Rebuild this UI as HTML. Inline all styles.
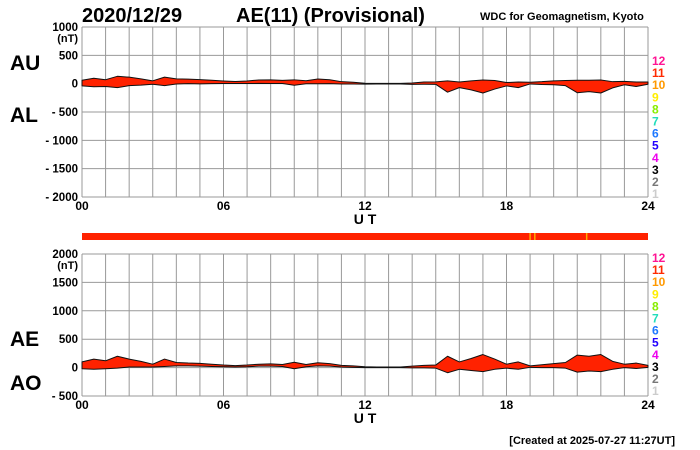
<!DOCTYPE html>
<html><head><meta charset="utf-8"><style>
body{margin:0;background:#fff}
svg{display:block;font-family:"Liberation Sans",sans-serif;font-weight:bold}
</style></head><body>
<svg id="c" width="700" height="450" viewBox="0 0 700 450">
<text x="82" y="22" font-size="20">2020/12/29</text>
<text x="236" y="22" font-size="20">AE(11) (Provisional)</text>
<text x="480" y="20" font-size="11">WDC for Geomagnetism, Kyoto</text>
<text x="10" y="70" font-size="21">AU</text>
<text x="10" y="122" font-size="21">AL</text>
<text x="10" y="346" font-size="21">AE</text>
<text x="10" y="390" font-size="21">AO</text>
<text x="675" y="444" font-size="11" text-anchor="end">[Created at 2025-07-27 11:27UT]</text>
<g id="g"></g>
</svg>
<script>
const hours=[0,0.5,1,1.5,2,2.5,3,3.5,4,4.5,5,5.5,6,6.5,7,7.5,8,8.5,9,9.5,10,10.5,11,11.5,12,12.5,13,13.5,14,14.5,15,15.5,16,16.5,17,17.5,18,18.5,19,19.5,20,20.5,21,21.5,22,22.5,23,23.5,24];
const auValues=[60,95,70,130,115,85,50,115,85,80,72,60,48,38,48,65,68,58,68,52,82,70,35,25,8,5,5,5,12,30,32,50,30,50,65,55,20,30,25,35,50,55,60,60,65,35,40,30,30];
const alValues=[-40,-55,-50,-70,-35,-25,-10,-35,-5,0,-3,0,2,2,2,5,2,2,-28,-2,-2,0,-5,-5,-8,-5,-5,-5,-12,-10,-12,-150,-70,-110,-165,-95,-40,-70,-5,-15,-20,-35,-160,-140,-165,-75,-20,-50,-10];
const aeValues=[100,150,120,200,150,110,60,150,90,80,75,60,45,35,45,60,65,55,95,55,85,70,40,30,15,10,10,10,25,40,45,200,100,160,230,150,60,100,30,50,70,90,220,200,230,110,60,80,40];
const aoValues=[-20,-30,-20,-10,10,10,10,20,30,30,25,20,15,10,15,25,25,20,-20,15,30,25,10,5,0,0,0,0,-5,-5,-10,-90,-30,-50,-70,-30,-10,-30,5,0,0,-10,-80,-60,-70,-30,0,-15,5];
const topTicks=[1000,500,0,-500,-1000,-1500,-2000];
const botTicks=[2000,1500,1000,500,0,-500];
const xTicks=["00","06","12","18","24"];
const qualityMarks=[19,19.2,21.4];
const legendNums=["12","11","10","9","8","7","6","5","4","3","2","1"];
const legendCols=["#ff1493","#ff2a00","#ff9900","#ffee00","#88ee00","#22ddbb","#1e78ff","#2200ff","#ee00ee","#000","#777","#ccc"];

const NS="http://www.w3.org/2000/svg",G=document.getElementById('g');
const X0=82,X1=648;
const x=h=>X0+(X1-X0)*h/24;
function mk(t,a,p){const e=document.createElementNS(NS,t);for(const k in a)e.setAttribute(k,a[k]);(p||G).appendChild(e);return e;}
function panel(name,yTop,yBot,vMax,vMin,ticks,upper,lower,leg0){
  const y=v=>yTop+(vMax-v)*(yBot-yTop)/(vMax-vMin);
  const g=mk('g',{});
  
  
  for(let h=0;h<=24;h++){const l=mk('line',{x1:x(h),x2:x(h),y1:yTop,y2:yBot,stroke:'#999','stroke-width':1},g);
    }
  ticks.forEach((v,i)=>{const l=mk('line',{x1:X0,x2:X1,y1:y(v),y2:y(v),stroke:'#999','stroke-width':1},g);
    
    const t=mk('text',{x:78,y:y(v)+4,'font-size':11.5,'text-anchor':'end'},g);
    t.textContent=(v<0?'- '+(-v):v);
    
    if(i==0){const u=mk('text',{x:78,y:y(v)+15,'font-size':11,'text-anchor':'end'},g);u.textContent='(nT)';
      }
  });
  let d='M'+hours.map((h,i)=>x(h)+','+y(upper[i])).join('L');
  for(let i=hours.length-1;i>=0;i--)d+='L'+x(hours[i])+','+y(lower[i]);
  const a=mk('path',{d:d+'Z',fill:'#ff2200',stroke:'#111','stroke-width':1,'stroke-linejoin':'round'},g);
  
  xTicks.forEach((s,i)=>{const t=mk('text',{x:x(i*6),y:yBot+13,'font-size':12,'text-anchor':'middle'},g);t.textContent=s;
    });
  const ut=mk('text',{x:x(12),y:yBot+27,'font-size':14,'text-anchor':'middle'},g);ut.textContent='U T';
  
  legendNums.forEach((n,i)=>{const t=mk('text',{x:652,y:leg0+i*12.1,'font-size':12,fill:legendCols[i]},g);t.textContent=n;
    });
}
panel('au-al',27,197,1000,-2000,topTicks,auValues,alValues,65);
panel('ae-ao',254,396,2000,-500,botTicks,aeValues,aoValues,262);
const bar=mk('rect',{x:X0,y:233,width:X1-X0,height:7,fill:'#ff2200'});


qualityMarks.forEach(h=>{const l=mk('line',{x1:x(h),x2:x(h),y1:233,y2:240,stroke:'#ffaa00','stroke-width':1.5});
  
  });
</script>
</body></html>
